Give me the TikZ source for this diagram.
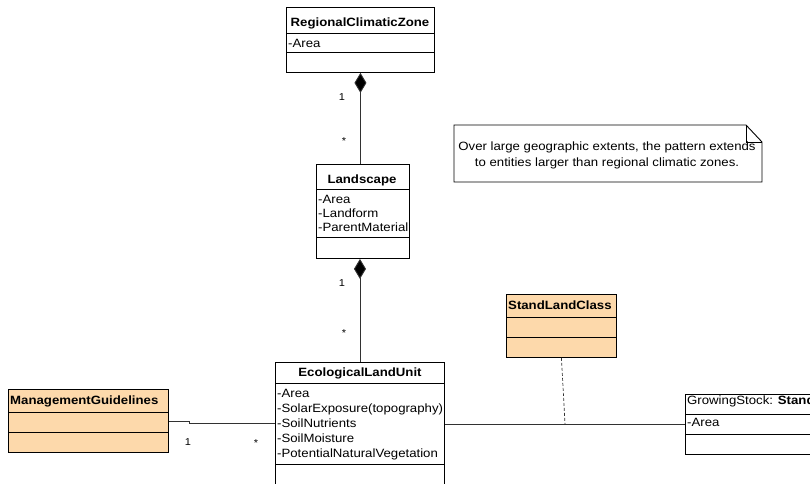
\documentclass[tikz,border=0pt]{standalone}
\usepackage{fontspec}
\setmainfont{Liberation Sans}[FakeStretch=1.1]
\usetikzlibrary{arrows.meta}
\definecolor{peach}{RGB}{253,217,171}
\definecolor{linegray}{RGB}{50,50,50}
\begin{document}
\begin{tikzpicture}[x=1pt,y=-1pt,
  every node/.style={font=\fontsize{12}{14}\selectfont},
  umlbox/.style={draw=black, line width=0.9pt, inner sep=0pt, anchor=north west},
  peachbox/.style={umlbox, fill=peach},
  sepline/.style={line width=0.9pt},
  conn/.style={line width=0.9pt, draw=linegray},
  lbl/.style={font=\fontsize{10}{12}\selectfont, inner sep=0pt},
  txt/.style={anchor=base west, inner sep=0pt},
  ttl/.style={anchor=base, inner sep=0pt, font=\fontsize{12}{14}\selectfont\bfseries},
  ttlw/.style={anchor=base west, inner sep=0pt, font=\fontsize{12}{14}\selectfont\bfseries}]
\useasboundingbox (0,0) rectangle (810,483);
\clip (0,0) rectangle (810,483);

% RegionalClimaticZone
\node[umlbox, minimum width=148pt, minimum height=65pt] (rcz) at (286,7) {};
\draw[sepline] (286,33) -- (434,33) (286,52) -- (434,52);
\node[ttl] (rczT) at (360,26) {RegionalClimaticZone};
\node[txt] (rczA) at (288,47) {-Area};

% Landscape
\node[umlbox, minimum width=93pt, minimum height=94pt] (land) at (316,164) {};
\draw[sepline] (316,189) -- (409,189) (316,237) -- (409,237);
\node[ttl] (landT) at (362,183) {Landscape};
\node[txt] (landA) at (318,203) {-Area};
\node[txt] (landB) at (318,217) {-Landform};
\node[txt] (landC) at (318,231) {-ParentMaterial};

% EcologicalLandUnit
\node[umlbox, minimum width=169pt, minimum height=140pt] (elu) at (275,362) {};
\draw[sepline] (275,383) -- (444,383) (275,464) -- (444,464);
\node[ttl] (eluT) at (360,376) {EcologicalLandUnit};
\node[txt] (eluA) at (277,397) {-Area};
\node[txt] (eluB) at (277,412) {-SolarExposure(topography)};
\node[txt] (eluC) at (277,427) {-SoilNutrients};
\node[txt] (eluD) at (277,442) {-SoilMoisture};
\node[txt] (eluE) at (277,457) {-PotentialNaturalVegetation};

% ManagementGuidelines
\node[peachbox, minimum width=160pt, minimum height=63pt] (mg) at (8,389) {};
\draw[sepline] (8,412) -- (168,412) (8,432) -- (168,432);
\node[ttlw] (mgT) at (10,404) {ManagementGuidelines};

% StandLandClass
\node[peachbox, minimum width=110pt, minimum height=63pt] (slc) at (506,294) {};
\draw[sepline] (506,317) -- (616,317) (506,337) -- (616,337);
\node[ttlw] (slcT) at (508,309) {StandLandClass};

% GrowingStock: Stand
\node[umlbox, minimum width=160pt, minimum height=60pt] (gs) at (685,394) {};
\draw[sepline] (685,414) -- (845,414) (685,434) -- (845,434);
\node[txt] (gsT) at (687,404) {GrowingStock: \textbf{Stand}};
\node[txt] (gsA) at (687,426) {-Area};

% Note
\draw[line width=0.9pt] (454,125) -- (746,125) -- (762,142) -- (762,182) -- (454,182) -- cycle;
\draw[line width=0.9pt] (746,125) -- (746,142) -- (762,142);
\node[anchor=base, inner sep=0pt] (noteA) at (607,150) {Over large geographic extents, the pattern extends};
\node[anchor=base, inner sep=0pt] (noteB) at (607,166) {to entities larger than regional climatic zones.};

% Compositions
\draw[conn, -{Diamond[length=20pt,width=12pt,fill=black]}] (rcz.south |- land.north) -- (rcz.south);
\draw[conn, -{Diamond[length=20pt,width=12pt,fill=black]}] (elu.north) -- (elu.north |- land.south);
\node[lbl] (c1a) at (342,97) {1};
\node[lbl] (c1b) at (344,141) {*};
\node[lbl] (c2a) at (342,283) {1};
\node[lbl] (c2b) at (344,333) {*};

% ManagementGuidelines -- EcologicalLandUnit
\draw[conn] (mg.east) -- ++(21,0) coordinate (mgj1) -- ++(0,2.5) coordinate (mgj2) -- (mgj2 -| elu.west);
\node[lbl] (m1) at (188,442) {1};
\node[lbl] (m2) at (256,443) {*};

% EcologicalLandUnit -- GrowingStock
\draw[conn] (gs.west) -- (gs.west -| elu.east);
\coordinate (mid) at (565,424);
\draw[conn, dash pattern=on 3pt off 2pt, line width=0.7pt] (slc.south) -- (mid);
\end{tikzpicture}
\end{document}
